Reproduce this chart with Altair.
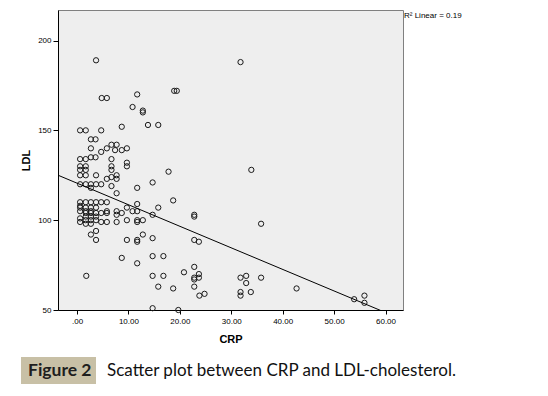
import altair as alt
import pandas as pd

# CRP (x) and LDL (y) values
crp = [3.7, 4.8, 5.8, 11.7, 10.8, 12.8, 12.8, 18.9, 19.4, 13.8, 15.8, 8.7,
       0.6, 1.7, 4.7, 2.7, 3.6, 2.7, 6.7, 7.7, 5.8, 4.7, 7.4, 8.7, 9.7,
       0.6, 1.7, 2.7, 3.6, 0.6, 1.7, 0.6, 1.7, 6.7, 6.7, 6.7, 9.7, 9.7,
       0.6, 1.7, 3.7, 17.8, 5.8, 6.7, 7.7, 7.7, 14.7,
       0.6, 1.7, 2.7, 3.7, 4.7, 2.7, 11.7, 6.7, 7.7, 18.7,
       0.6, 0.6, 0.6, 0.6, 0.6, 0.6,
       1.7, 1.7, 1.7, 1.7, 1.7, 1.7, 1.7,
       2.7, 2.7, 2.7, 2.7, 2.7, 2.7, 2.7, 2.7,
       3.7, 3.7, 3.7, 3.7, 3.7, 3.7, 3.7,
       4.7, 4.7, 4.7, 5.8, 5.8, 5.8, 5.8,
       7.7, 7.7, 7.7, 8.7, 9.7, 9.7, 9.7,
       10.8, 11.7, 11.7, 11.7, 11.7, 11.7, 11.7, 11.7, 12.8, 12.8,
       15.8, 14.7, 14.7, 14.7, 16.8, 8.7, 14.7, 16.8, 15.8, 18.7, 14.7, 19.7,
       20.8, 22.8, 22.8, 22.8, 23.7, 22.8, 22.8, 22.8, 23.7, 23.7, 22.8, 23.8, 24.8,
       31.8, 32.9, 32.9, 31.8, 31.8, 33.8, 35.8, 35.8, 42.7, 53.9, 55.9, 55.9,
       31.8, 33.9, 1.8]
ldl = [189, 168, 168, 170, 163, 161, 160, 172, 172, 153, 153, 152,
       150, 150, 150, 145, 145, 140, 142, 142, 140, 138, 139, 139, 140,
       134, 134, 135, 135, 130, 130, 128, 128, 134, 130, 128, 132, 130,
       125, 125, 125, 127, 123, 124, 125, 123, 121,
       120, 120, 120, 120, 120, 118, 118, 119, 115, 111,
       110, 108, 107, 105, 101, 99,
       110, 107, 105, 104, 102, 100, 98,
       110, 107, 105, 104, 102, 100, 98, 92,
       110, 107, 104, 102, 100, 94, 89,
       110, 104, 99, 110, 105, 104, 99,
       105, 103, 99, 104, 107, 100, 89,
       105, 105, 109, 100, 99, 89, 88, 76, 100, 92,
       107, 103, 90, 80, 80, 79, 69, 69, 63, 62, 51, 50,
       71, 103, 102, 89, 88, 74, 68, 67, 70, 68, 63, 58, 59,
       68, 69, 65, 60, 58, 60, 68, 98, 62, 56, 58, 54,
       188, 128, 69]

# fit line (linear, R^2 = 0.19)
fit_intercept = 120.6
fit_slope = -1.2
x_domain = [-3.7, 63.4]
y_domain = [50, 217]
x_ticks = [0, 10, 20, 30, 40, 50, 60]
y_ticks = [50, 100, 150, 200]

W, H = 345, 300

pts = pd.DataFrame({"CRP": crp, "LDL": ldl})
fit = pd.DataFrame({"CRP": x_domain,
                    "LDL": [fit_intercept + fit_slope * v for v in x_domain]})

xs = alt.Scale(domain=x_domain, nice=False, zero=False)
ys = alt.Scale(domain=y_domain, nice=False, zero=False)

xaxis = alt.Axis(values=x_ticks, title="CRP",
                 labelExpr="datum.value == 0 ? '.00' : format(datum.value, '.2f')",
                 tickSize=4, labelPadding=3, titlePadding=8,
                 labelFontSize=8, titleFontSize=11, titleFontWeight="bold")
yaxis = alt.Axis(values=y_ticks, title="LDL", tickSize=5, labelPadding=2,
                 titlePadding=6, labelFontSize=8, titleFontSize=11,
                 titleFontWeight="bold")

points = alt.Chart(pts).mark_point(
    shape="circle", filled=False, size=28, strokeWidth=1, color="#1a1a1a", opacity=1
).encode(
    x=alt.X("CRP:Q", scale=xs, axis=xaxis),
    y=alt.Y("LDL:Q", scale=ys, axis=yaxis),
)

line = alt.Chart(fit).mark_line(color="black", strokeWidth=1, clip=True).encode(
    x=alt.X("CRP:Q", scale=xs),
    y=alt.Y("LDL:Q", scale=ys),
)

r2 = alt.Chart(pd.DataFrame({"t": ["R\u00b2 Linear = 0.19"]})).mark_text(
    align="left", baseline="middle", fontSize=8, font="Liberation Sans", color="black"
).encode(x=alt.value(W + 1), y=alt.value(6), text="t:N")

box = alt.Chart(pd.DataFrame({"k": [1]})).mark_rect(color="#c8c0a6").encode(
    x=alt.value(-37), x2=alt.value(38), y=alt.value(347), y2=alt.value(374)
)
fig = alt.Chart(pd.DataFrame({"t": ["Figure 2"]})).mark_text(
    align="left", baseline="middle", fontSize=17.5, font="Lato", fontWeight="bold",
    color="#1e1e1e"
).encode(x=alt.value(-30), y=alt.value(361), text="t:N")
cap = alt.Chart(pd.DataFrame({"t": ["Scatter plot between CRP and LDL-cholesterol."]})).mark_text(
    align="left", baseline="middle", fontSize=17, font="Lato", color="#111111"
).encode(x=alt.value(49), y=alt.value(361), text="t:N")

chart = alt.layer(points, line, r2, box, fig, cap).properties(
    width=W, height=H,
    autosize=alt.AutoSizeParams(type="none"),
    padding={"left": 50, "top": 2, "right": 130, "bottom": 76},
).configure_view(
    stroke="#808080", fill="#eeeeee"
).configure_axis(
    domainColor="black", tickColor="black", labelColor="black", titleColor="black",
    labelFont="Liberation Sans", titleFont="Liberation Sans", grid=False
)

chart.save("out.html", embed_options={"renderer": "svg", "actions": False})
